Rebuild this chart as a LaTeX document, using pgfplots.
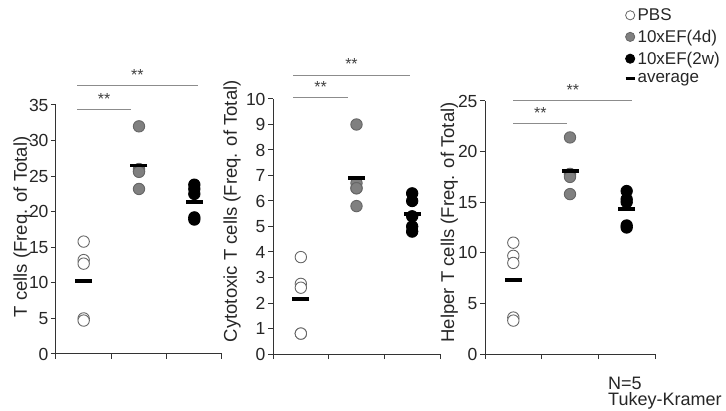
\documentclass[border=0pt]{standalone}
\usepackage{pgfplots}
\pgfplotsset{compat=1.18}
\usepackage{fontspec}
\setmainfont{Liberation Sans}
\definecolor{axc}{HTML}{333333}
\definecolor{sigc}{HTML}{8C8C8C}
\tikzset{sigstar/.style={font=\fontsize{16}{16}\selectfont, text=black!75, anchor=base}}
\pgfplotsset{
  panel/.style={
    scale only axis, anchor=south west,
    axis lines=left, axis line style={-, line width=1pt, axc},
    xmin=-0.5, xmax=2.5, xtick={-0.5,0.5,1.5,2.5}, xticklabels={},
    tick style={axc, line width=1pt}, major tick length=5pt, tick align=outside,
    ymin=0, clip=false,
    ticklabel style={font=\fontsize{17.5}{17.5}\selectfont, text=black!85},
    yticklabel style={xshift=1pt},
    /pgf/number format/assume math mode=true,
    ylabel style={font=\fontsize{18.5}{18.5}\selectfont, anchor=center, text=black!85},
  },
  pbs/.style={only marks, mark=*, mark size=5.7pt, mark options={fill=white, draw=black!60, line width=0.9pt}},
  dfour/.style={only marks, mark=*, mark size=5.7pt, mark options={fill=black!50, draw=black!60, line width=0.9pt}},
  twow/.style={only marks, mark=*, mark size=5.7pt, mark options={fill=black, draw=black, line width=0.9pt}},
  avg/.style={only marks, mark=-, mark size=8.5pt, mark options={line width=3.6pt, black}},
  sig/.style={sigc, line width=1pt},
}
\begin{document}
\begin{tikzpicture}[x=1pt,y=1pt]
\useasboundingbox (0,0) rectangle (726,410);
% Panel 1
\begin{axis}[panel, at={(56pt,56pt)}, width=166pt, height=249pt,
  ymax=35, ytick={0,5,...,35},
  ylabel={T cells (Freq. of Total)},
  ylabel style={at={(axis description cs:-0.205,0.51)}}]
\addplot[pbs] coordinates {(0,15.8)(0,13.2)(0,12.7)(0,5.0)(0,4.7)};
\addplot[dfour] coordinates {(1,32)(1,26.0)(1,25.7)(1,25.6)(1,23.2)};
\addplot[twow] coordinates {(2,23.8)(2,23.2)(2,22.5)(2,19.2)(2,18.9)};
\addplot[avg] coordinates {(0,10.3)(1,26.5)(2,21.4)};
\addplot[sig] coordinates {(-0.12,37.8)(2.06,37.8)};
\addplot[sig] coordinates {(-0.12,34.4)(0.86,34.4)};
\node[sigstar] at (axis cs:0.97,38.4) {**};
\node[sigstar] at (axis cs:0.37,35.0) {**};
\end{axis}
% Panel 2
\begin{axis}[panel, at={(273pt,56pt)}, width=167pt, height=255pt,
  ymax=10, ytick={0,1,...,10},
  ylabel={Cytotoxic T cells (Freq. of Total)},
  ylabel style={at={(axis description cs:-0.245,0.56)}}]
\addplot[pbs] coordinates {(0,3.8)(0,2.75)(0,2.6)(0,0.8)(0,0.8)};
\addplot[dfour] coordinates {(1,9.0)(1,6.7)(1,6.5)(1,6.5)(1,5.8)};
\addplot[twow] coordinates {(2,6.3)(2,6.0)(2,5.4)(2,5.0)(2,4.8)};
\addplot[avg] coordinates {(0,2.15)(1,6.9)(2,5.5)};
\addplot[sig] coordinates {(-0.14,10.94)(1.96,10.94)};
\addplot[sig] coordinates {(-0.14,10.04)(0.85,10.04)};
\node[sigstar] at (axis cs:0.91,11.14) {**};
\node[sigstar] at (axis cs:0.355,10.24) {**};
\end{axis}
% Panel 3
\begin{axis}[panel, at={(485pt,56pt)}, width=170pt, height=253pt,
  ymax=25, ytick={0,5,...,25},
  ylabel={Helper T cells (Freq. of Total)},
  ylabel style={at={(axis description cs:-0.21,0.52)}},
  legend style={at={(axis description cs:0.817,1.37)}, anchor=north west, draw=none, fill=none,
    font=\fontsize{17}{17}\selectfont, inner sep=0pt, row sep=6pt, text=black!85,
    nodes={inner sep=1pt},
    /tikz/every even column/.append style={column sep=0pt}},
  legend cell align=left]
\addlegendimage{legend image code/.code={\draw[fill=white, draw=black!60, line width=0.8pt] (4.6pt,0pt) circle (4.6pt);}}
\addlegendentry{PBS}
\addlegendimage{legend image code/.code={\draw[fill=black!50, draw=black!60, line width=0.8pt] (4.6pt,0pt) circle (4.6pt);}}
\addlegendentry{10xEF(4d)}
\addlegendimage{legend image code/.code={\draw[fill=black, draw=black, line width=0.8pt] (4.6pt,0pt) circle (4.6pt);}}
\addlegendentry{10xEF(2w)}
\addlegendimage{legend image code/.code={\draw[black, line width=3pt] (0pt,0pt) -- (9.5pt,0pt);}}
\addlegendentry{average}
\addplot[pbs, forget plot] coordinates {(0,11.0)(0,9.7)(0,9.0)(0,3.6)(0,3.3)};
\addplot[dfour, forget plot] coordinates {(1,21.4)(1,17.8)(1,17.7)(1,17.5)(1,15.8)};
\addplot[twow, forget plot] coordinates {(2,16.1)(2,15.3)(2,15.0)(2,12.7)(2,12.5)};
\addplot[avg, forget plot] coordinates {(0,7.3)(1,18.1)(2,14.3)};
\addplot[sig, forget plot] coordinates {(0.0,25.05)(2.1,25.05)};
\addplot[sig, forget plot] coordinates {(0.0,22.8)(0.95,22.8)};
\node[sigstar] at (axis cs:1.05,25.55) {**};
\node[sigstar] at (axis cs:0.475,23.3) {**};
\end{axis}
\node[anchor=west, font=\fontsize{18}{18}\selectfont, text=black!85, inner sep=0pt] at (608,27) {N=5};
\node[anchor=west, font=\fontsize{18}{18}\selectfont, text=black!85, inner sep=0pt] at (608,9) {Tukey-Kramer};
\end{tikzpicture}
\end{document}
